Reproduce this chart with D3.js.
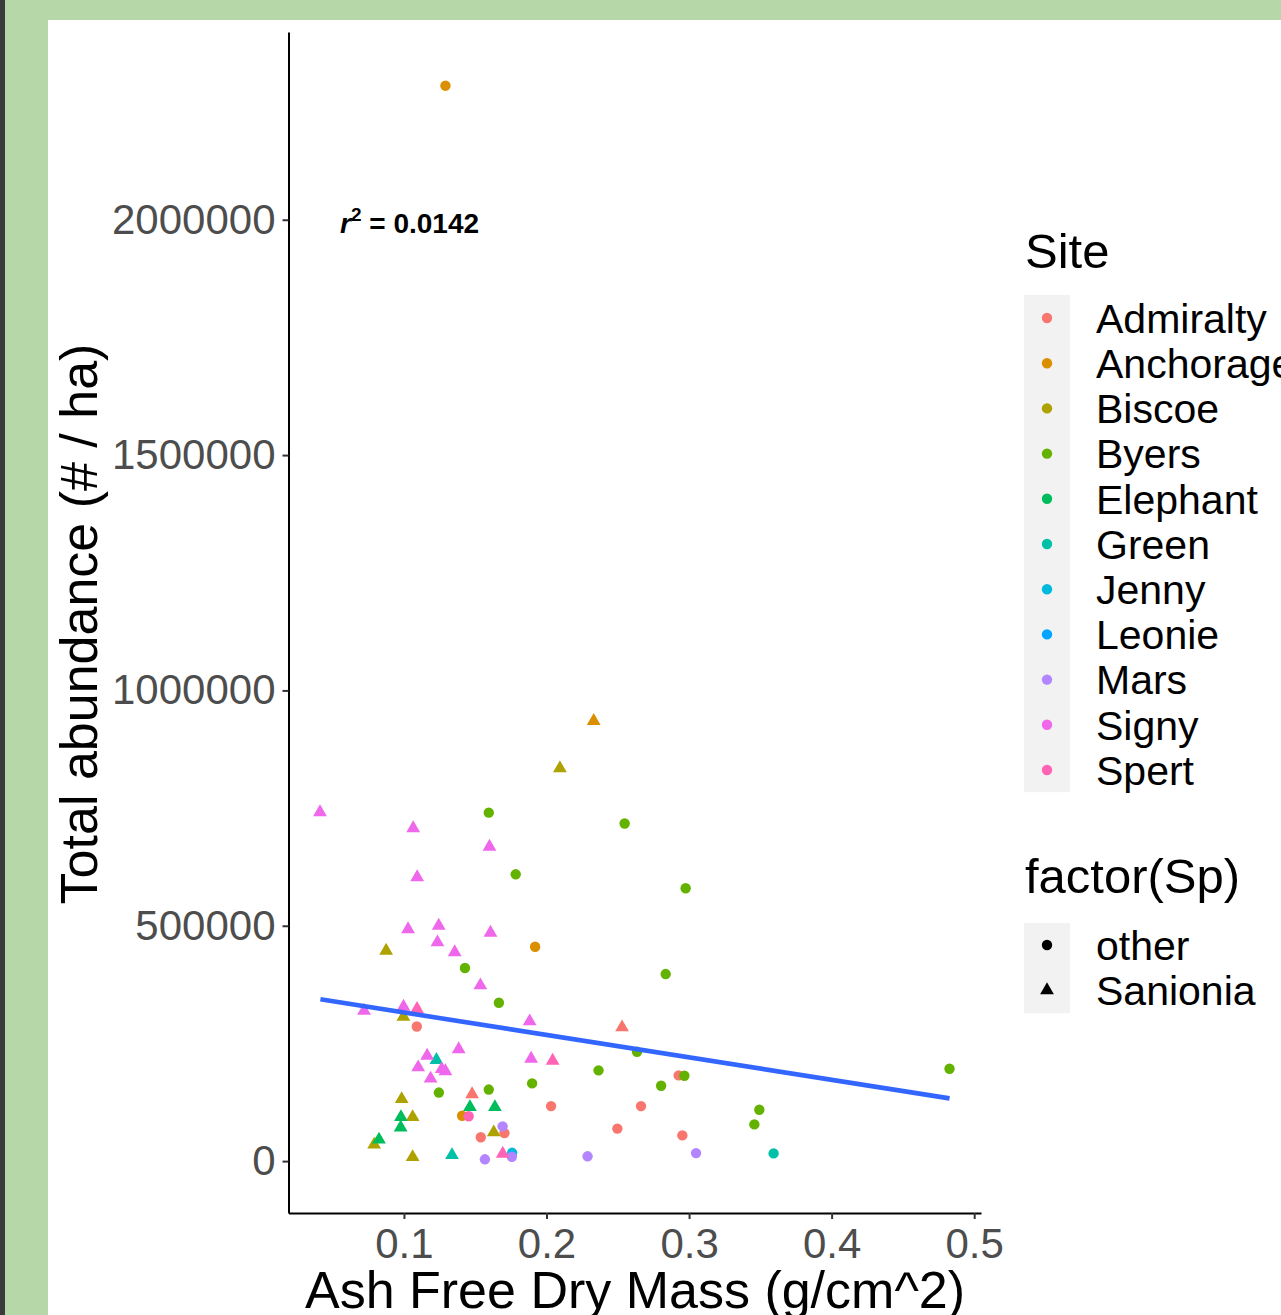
<!DOCTYPE html>
<html>
<head>
<meta charset="utf-8">
<script src="https://cdn.jsdelivr.net/npm/d3@7"></script>
<style>
body{ margin:0; background:#b6d7a8; }
svg{ display:block; }
text{ font-family:"Liberation Sans", Arial, sans-serif; }
</style>
</head>
<body>
<svg id="chart" width="1281" height="1315"></svg>
<script>
/* site levels + ggplot hue colours */
var sites = ['Admiralty','Anchorage','Biscoe','Byers','Elephant','Green','Jenny','Leonie','Mars','Signy','Spert'];
var siteColors = ['#F8766D','#DB8E00','#AEA200','#64B200','#00BD5C','#00C1A7','#00BADE','#00A6FF','#B385FF','#EF67EB','#FF63B6'];
var spLevels = ['other','Sanionia'];

/* points : site / Sp / AFDM / abundance */
var ptSite = [
	'Admiralty','Admiralty','Admiralty','Admiralty','Admiralty','Admiralty','Admiralty','Admiralty','Admiralty','Admiralty',
	'Anchorage','Anchorage','Anchorage','Anchorage',
	'Biscoe','Biscoe','Biscoe','Biscoe','Biscoe','Biscoe','Biscoe','Biscoe',
	'Byers','Byers','Byers','Byers','Byers','Byers','Byers','Byers','Byers','Byers','Byers','Byers','Byers','Byers','Byers','Byers','Byers',
	'Elephant','Elephant','Elephant','Elephant','Elephant',
	'Green','Green','Green',
	'Jenny',
	'Mars','Mars','Mars','Mars','Mars',
	'Signy','Signy','Signy','Signy','Signy','Signy','Signy','Signy','Signy','Signy','Signy','Signy','Signy','Signy','Signy','Signy','Signy','Signy','Signy','Signy',
	'Spert','Spert','Spert','Spert'
];
var ptSp = [
	'other','Sanionia','Sanionia','other','other','other','other','other','other','other',
	'other','Sanionia','other','other',
	'Sanionia','Sanionia','Sanionia','Sanionia','Sanionia','Sanionia','Sanionia','Sanionia',
	'other','other','other','other','other','other','other','other','other','other','other','other','other','other','other','other','other',
	'Sanionia','Sanionia','Sanionia','Sanionia','Sanionia',
	'Sanionia','Sanionia','other',
	'other',
	'other','other','other','other','other',
	'Sanionia','Sanionia','Sanionia','Sanionia','Sanionia','Sanionia','Sanionia','Sanionia','Sanionia','Sanionia','Sanionia','Sanionia','Sanionia','Sanionia','Sanionia','Sanionia','Sanionia','Sanionia','Sanionia','Sanionia',
	'Sanionia','Sanionia','other','Sanionia'
];
var ptAfdm = [
	0.1090,0.2530,0.1478,0.2032,0.2663,0.2927,0.2497,0.2953,0.1705,0.1539,
	0.1291,0.2331,0.1920,0.1408,
	0.2094,0.0875,0.0996,0.0984,0.1061,0.1630,0.0791,0.1061,
	0.1595,0.2548,0.1784,0.2976,0.1428,0.2836,0.1666,0.2635,0.2365,0.2967,0.2804,0.1899,0.1595,0.1245,0.3493,0.3458,0.4827,
	0.1463,0.1638,0.0979,0.0977,0.0825,
	0.1228,0.1337,0.3593,
	0.1759,
	0.1692,0.1568,0.1757,0.2288,0.3049,
	0.0411,0.1065,0.1600,0.1093,0.1029,0.1244,0.1607,0.1235,0.1356,0.1536,0.0720,0.0997,0.1882,0.1384,0.1163,0.1100,0.1265,0.1291,0.1187,0.1892,
	0.1092,0.2043,0.1454,0.1693
];
var ptAbund = [
	285900,284200,142000,116900,116900,182100,69100,54600,59500,50600,
	2284800,935200,455500,96300,
	834600,447000,306700,131800,93500,61000,35100,8500,
	740300,717300,609300,579600,410200,397400,336500,232300,192800,181300,160000,165100,152000,145600,109000,78000,196200,
	114800,114800,93500,71600,45700,
	214700,12800,16400,
	17600,
	73800,3800,9100,10200,17000,
	741100,707100,668000,603000,492500,500100,485200,464800,443600,373400,319400,328000,296900,237600,223800,199100,195500,190900,175300,217400,
	323100,213200,95200,15500
];

/* lm fit line ends */
var fitX = [0.0414, 0.4827];
var fitY = [343700, 133300];

var xTicks = [0.1,0.2,0.3,0.4,0.5];
var yTicks = [0,500000,1000000,1500000,2000000];
var r2Label = '0.0142';

var svg = d3.select('#chart');

// white page area
svg.append('rect').attr('x',0).attr('y',0).attr('width',5).attr('height',1315).attr('fill','#3a3a3a');
svg.append('rect').attr('x',48).attr('y',20).attr('width',1233).attr('height',1295).attr('fill','#ffffff');

var panel = { left:288.5, right:981, top:32, bottom:1213 };

// ggplot style 5% expansion
function expand(ext){
	var d = (ext[1]-ext[0])*0.05;
	return [ext[0]-d, ext[1]+d];
}
var x = d3.scaleLinear().domain(expand(d3.extent(ptAfdm))).range([panel.left, panel.right]);
var y = d3.scaleLinear().domain(expand(d3.extent(ptAbund))).range([panel.bottom, panel.top]);
var color = d3.scaleOrdinal().domain(sites).range(siteColors);

var triangle = d3.symbol().type(d3.symbolTriangle).size(82);

var gX = svg.append('g')
		.attr('transform','translate(0,'+panel.bottom+')')
		.call(d3.axisBottom(x).tickValues(xTicks).tickSize(6).tickSizeOuter(0).tickPadding(9).tickFormat(d3.format('.1f')));
var gY = svg.append('g')
		.attr('transform','translate('+panel.left+',0)')
		.call(d3.axisLeft(y).tickValues(yTicks).tickSize(6).tickSizeOuter(0).tickPadding(7).tickFormat(d3.format('d')));

[gX,gY].forEach(function(g){
	g.select('.domain').attr('stroke','#000').attr('stroke-width',2);
	g.selectAll('.tick line').attr('stroke','#333').attr('stroke-width',2);
	g.selectAll('.tick text').attr('fill','#4d4d4d').style('font-size','42px').style('font-family','"Liberation Sans", Arial, sans-serif');
});

// points
var pts = d3.range(ptSite.length).map(function(i){
	return { site:ptSite[i], sp:ptSp[i], x:ptAfdm[i], y:ptAbund[i] };
});
var gPts = svg.append('g');
gPts.selectAll('circle').data(pts.filter(function(d){ return d.sp=='other'; }))
	.enter().append('circle')
	.attr('cx',function(d){ return x(d.x); })
	.attr('cy',function(d){ return y(d.y); })
	.attr('r',5.2)
	.attr('fill',function(d){ return color(d.site); });
gPts.selectAll('path').data(pts.filter(function(d){ return d.sp=='Sanionia'; }))
	.enter().append('path')
	.attr('d',triangle)
	.attr('transform',function(d){ return 'translate('+x(d.x)+','+y(d.y)+')'; })
	.attr('fill',function(d){ return color(d.site); });

// fit line
svg.append('line')
	.attr('x1',x(fitX[0])).attr('y1',y(fitY[0]))
	.attr('x2',x(fitX[1])).attr('y2',y(fitY[1]))
	.attr('stroke','#3366FF').attr('stroke-width',4.6);

// r2 label
var r2 = svg.append('text').attr('x',340).attr('y',233)
	.style('font-size','28px').style('font-weight','bold').attr('fill','#000');
r2.append('tspan').style('font-style','italic').text('r');
r2.append('tspan').attr('dy',-12).style('font-size','19px').text('2');
r2.append('tspan').attr('dy',12).text(' = '+r2Label);

// axis titles
svg.append('text').attr('x',635).attr('y',1308).attr('text-anchor','middle')
	.style('font-size','52px').attr('fill','#000').text('Ash Free Dry Mass (g/cm^2)');
svg.append('text').attr('transform','translate(97,624) rotate(-90)').attr('text-anchor','middle')
	.style('font-size','52px').attr('fill','#000').text('Total abundance (# / ha)');

// legend : Site
var lg = svg.append('g');
lg.append('text').attr('x',1025).attr('y',268).style('font-size','49px').attr('fill','#000').text('Site');
lg.append('rect').attr('x',1024).attr('y',295).attr('width',46).attr('height',sites.length*45.2).attr('fill','#f2f2f2');
sites.forEach(function(s,i){
	var cy = 318 + i*45.2;
	lg.append('circle').attr('cx',1047).attr('cy',cy).attr('r',5.2).attr('fill',siteColors[i]);
	lg.append('text').attr('x',1096).attr('y',cy).attr('dy','0.36em').style('font-size','41px').attr('fill','#000').text(s);
});

// legend : factor(Sp)
lg.append('text').attr('x',1025).attr('y',893).style('font-size','49px').attr('fill','#000').text('factor(Sp)');
lg.append('rect').attr('x',1024).attr('y',923).attr('width',46).attr('height',spLevels.length*45.2).attr('fill','#f2f2f2');
spLevels.forEach(function(s,i){
	var cy = 945 + i*45.2;
	if( s=='other' ){
		lg.append('circle').attr('cx',1047).attr('cy',cy).attr('r',5.2).attr('fill','#000');
	}else{
		lg.append('path').attr('d',triangle).attr('transform','translate(1047,'+cy+')').attr('fill','#000');
	}
	lg.append('text').attr('x',1096).attr('y',cy).attr('dy','0.36em').style('font-size','41px').attr('fill','#000').text(s);
});
</script>
</body>
</html>
